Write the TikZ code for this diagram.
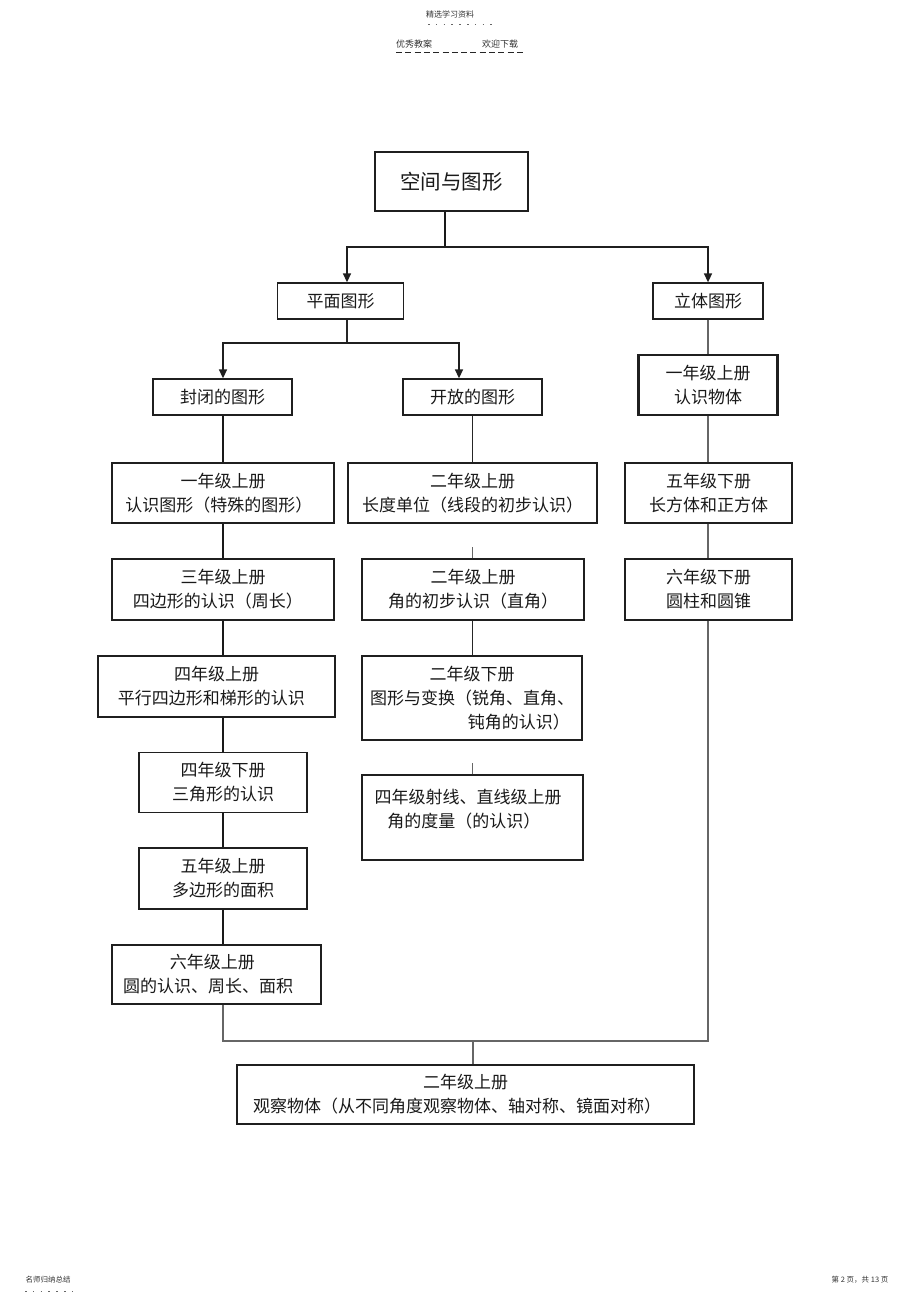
\documentclass[tikz,border=0pt]{standalone}
\usepackage{fontspec}
\setmainfont{Noto Sans CJK SC}
\usetikzlibrary{arrows.meta}
\begin{document}
\begin{tikzpicture}[x=1pt,y=-1pt,
  box/.style={draw=black!88,line width=1.3pt,rectangle,inner sep=0pt,align=center,
    font=\fontsize{17}{24}\selectfont,text=black!90},
  thickbox/.style={box,line width=2.2pt},
  lnL/.style={draw=black!90,line width=1.9pt},
  lnM/.style={draw=black!85,line width=1.5pt},
  lnR/.style={draw=black!60,line width=1.1pt},
  arr/.style={draw=black!88,line width=1.5pt,-{Triangle[width=8pt,length=9pt]}},
  hdr/.style={inner sep=0pt,text=black!80},
]
\useasboundingbox (0,0) rectangle (920,1303);
% header / footer
\node[hdr,font=\fontsize{8}{9}\selectfont] (h1) at (450,14) {精选学习资料};
\coordinate (d1a) at (428,24); \coordinate (d1b) at (492,24);
\draw[black!60,line width=0.7pt,dash pattern=on 1.6pt off 6.2pt] (d1a) -- (d1b);
\node[hdr,font=\fontsize{9}{10}\selectfont] (h2) at (414,44) {优秀教案};
\node[hdr,font=\fontsize{9}{10}\selectfont] (h3) at (500,44) {欢迎下载};
\coordinate (d2a) at (396,53); \coordinate (d2b) at (525,53);
\draw[black!85,line width=1pt,dash pattern=on 6pt off 3.3pt] (d2a) -- (d2b);
\node[hdr,font=\fontsize{7.5}{9}\selectfont] (f1) at (48,1280) {名师归纳总结};
\coordinate (d3a) at (25,1291); \coordinate (d3b) at (76,1291);
\draw[black!60,line width=0.7pt,dash pattern=on 1.6pt off 6.2pt] (d3a) -- (d3b);
\node[hdr,font=\fontsize{7.5}{9}\selectfont] (f2) at (860,1280) {第 2 页，共 13 页};

% boxes
\node[box,font=\fontsize{20.5}{24}\selectfont,minimum width=153,minimum height=59] (top) at (451.5,181.5) {空间与图形};
\node[box,minimum width=126,minimum height=36] (pm) at (340.5,301) {平面图形};
\node[box,minimum width=110,minimum height=36] (lt) at (708,301) {立体图形};
\node[box,minimum width=139,minimum height=36] (fb) at (222.5,397) {封闭的图形};
\node[box,minimum width=139,minimum height=36] (kf) at (472.5,397) {开放的图形};
\node[thickbox,minimum width=139,minimum height=60] (r1) at (708,385) {一年级上册\\认识物体};

\node[box,minimum width=222,minimum height=60] (L1) at (223,493) {一年级上册\\认识图形（特殊的图形）\hspace*{0.5em}};
\node[box,minimum width=222,minimum height=61] (L2) at (223,589.5) {三年级上册\\四边形的认识（周长）\hspace*{0.6em}};
\node[box,minimum width=237,minimum height=61] (L3) at (216.5,686.5) {四年级上册\\平行四边形和梯形的认识\hspace*{0.6em}};
\node[box,minimum width=168,minimum height=60] (L4) at (223,782.5) {四年级下册\\三角形的认识};
\node[box,minimum width=168,minimum height=61] (L5) at (223,878.5) {五年级上册\\多边形的面积};
\node[box,minimum width=209,minimum height=59] (L6) at (216.5,974.5) {六年级上册\hspace*{0.5em}\\圆的认识、周长、面积\hspace*{1em}};

\node[box,minimum width=249,minimum height=60] (M1) at (472.5,493) {二年级上册\\长度单位（线段的初步认识）};
\node[box,minimum width=222,minimum height=61] (M2) at (473,589.5) {二年级上册\\角的初步认识（直角）};
\node[box,minimum width=220,minimum height=84] (M3) at (472,698) {二年级下册\\图形与变换（锐角、直角、\\\hspace*{5.5em}钝角的认识）};
\node[box,minimum width=221,minimum height=85] (M4) at (472.5,817.5) {};
\node[inner sep=0pt,align=center,font=\fontsize{17}{24}\selectfont,text=black!90,anchor=center] (M4t) at (468,809) {四年级射线、直线级上册\\角的度量（的认识）\hspace*{0.5em}};

\node[box,minimum width=167,minimum height=60] (R2) at (708.5,493) {五年级下册\\长方体和正方体};
\node[box,minimum width=167,minimum height=61] (R3) at (708.5,589.5) {六年级下册\\圆柱和圆锥};

\node[box,minimum width=457,minimum height=59] (B) at (465.5,1094.5) {二年级上册\\观察物体（从不同角度观察物体、轴对称、镜面对称）\hspace*{1em}};

% junctions
\coordinate (j1) at (445,247);
\coordinate (j2) at (347,343);
\coordinate (xk) at (459,343);
\coordinate (cl) at (223,0);
\coordinate (cm) at (472.5,0);
\coordinate (cr) at (708,0);
\coordinate (jL) at (223,1041);
\coordinate (jM) at (473,1041);
\coordinate (jR) at (708,1041);

% top level
\draw[lnL] (top.south -| j1) -- (j1);
\draw[arr] (j1) -| (pm.north -| j2);
\draw[arr] (j1) -| (lt.north);
\draw[lnM] (pm.south -| j2) -- (j2);
\draw[arr] (j2) -| (fb.north -| cl);
\draw[arr] (j2) -- (xk) -- (kf.north -| xk);

% left column
\draw[lnL] (fb.south -| cl) -- (L1.north -| cl);
\draw[lnL] (L1.south -| cl) -- (L2.north -| cl);
\draw[lnL] (L2.south -| cl) -- (L3.north -| cl);
\draw[lnL] (L3.south -| cl) -- (L4.north -| cl);
\draw[lnL] (L4.south -| cl) -- (L5.north -| cl);
\draw[lnL] (L5.south -| cl) -- (L6.north -| cl);

% middle column
\draw[lnM] (kf.south -| cm) -- (M1.north -| cm);
\draw[lnR] (M2.north -| cm) -- ++(0,-11);
\draw[lnM] (M2.south -| cm) -- (M3.north -| cm);
\draw[lnR] (M4.north -| cm) -- ++(0,-11);

% right column
\draw[lnR] (lt.south) -- (r1.north);
\draw[lnR] (r1.south) -- (R2.north -| cr);
\draw[lnR] (R2.south -| cr) -- (R3.north -| cr);
\draw[lnR,line width=1.3pt] (R3.south -| cr) -- (jR) -- (jL) -- (L6.south -| cl);
\draw[lnR,line width=1.3pt] (jM) -- (B.north -| jM);
\end{tikzpicture}
\end{document}
